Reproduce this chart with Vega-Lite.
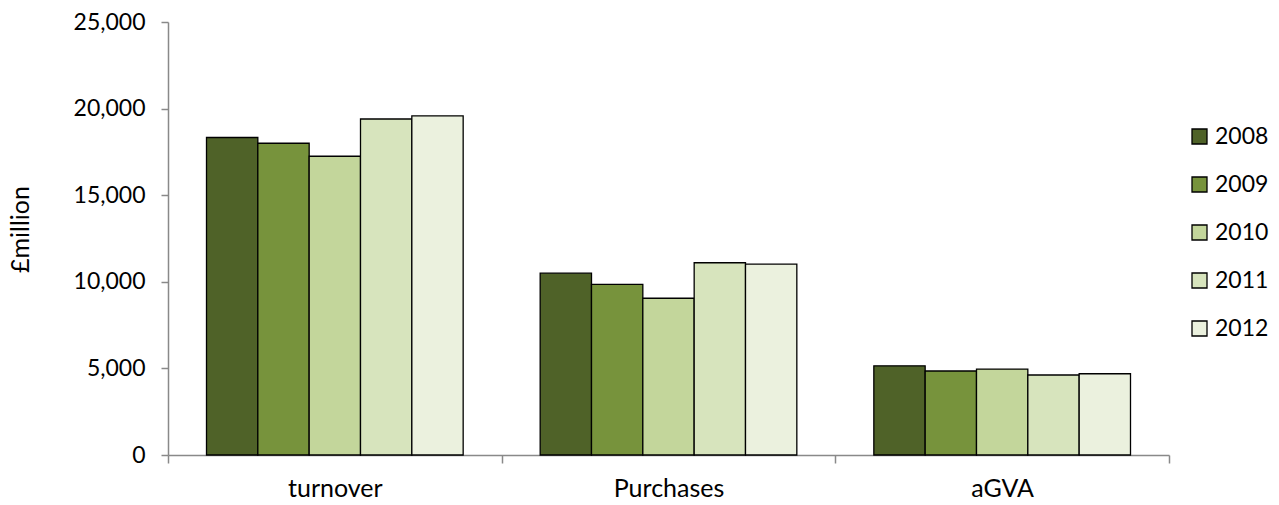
{
  "$schema": "https://vega.github.io/schema/vega-lite/v6.json",
  "width": 1001,
  "height": 433,
  "autosize": {"type": "none"},
  "padding": {"left": 168, "top": 22, "right": 110, "bottom": 50},
  "background": "white",
  "config": {
    "view": {"stroke": null},
    "font": "Lato",
    "axis": {"labelFont": "Lato", "titleFont": "Lato", "labelColor": "#000000", "titleColor": "#000000"}
  },
  "data": {
    "values": [
      {"measure": "turnover", "year": "2008", "value": 18330},
      {"measure": "turnover", "year": "2009", "value": 18000},
      {"measure": "turnover", "year": "2010", "value": 17250},
      {"measure": "turnover", "year": "2011", "value": 19400},
      {"measure": "turnover", "year": "2012", "value": 19580},
      {"measure": "Purchases", "year": "2008", "value": 10500},
      {"measure": "Purchases", "year": "2009", "value": 9850},
      {"measure": "Purchases", "year": "2010", "value": 9050},
      {"measure": "Purchases", "year": "2011", "value": 11100},
      {"measure": "Purchases", "year": "2012", "value": 11020},
      {"measure": "aGVA", "year": "2008", "value": 5150},
      {"measure": "aGVA", "year": "2009", "value": 4850},
      {"measure": "aGVA", "year": "2010", "value": 4960},
      {"measure": "aGVA", "year": "2011", "value": 4620},
      {"measure": "aGVA", "year": "2012", "value": 4690}
    ]
  },
  "mark": {"type": "bar", "stroke": "#000000", "strokeWidth": 1.3},
  "encoding": {
    "x": {
      "field": "measure",
      "type": "nominal",
      "sort": ["turnover", "Purchases", "aGVA"],
      "scale": {"paddingInner": 0, "paddingOuter": 0},
      "axis": {
        "title": null,
        "labelAngle": 0,
        "labelFontSize": 25,
        "labelPadding": 13,
        "tickBand": "extent",
        "tickSize": 8,
        "tickColor": "#898989",
        "domainColor": "#898989",
        "tickWidth": 1.5,
        "domainWidth": 1.5
      }
    },
    "xOffset": {
      "field": "year",
      "type": "nominal",
      "scale": {"paddingInner": 0, "paddingOuter": 0.75}
    },
    "y": {
      "field": "value",
      "type": "quantitative",
      "scale": {"domain": [0, 25000], "nice": false},
      "axis": {
        "title": "£million",
        "titleFontSize": 25,
        "titleFontWeight": "normal",
        "titleX": -148,
        "titleY": 207,
        "titleAngle": -90,
        "titleAlign": "center",
        "titleBaseline": "middle",
        "values": [0, 5000, 10000, 15000, 20000, 25000],
        "format": ",d",
        "labelFontSize": 23,
        "labelPadding": 16,
        "tickSize": 7,
        "tickColor": "#898989",
        "domainColor": "#898989",
        "tickWidth": 1.5,
        "domainWidth": 1.5,
        "grid": false
      }
    },
    "color": {
      "field": "year",
      "type": "nominal",
      "scale": {
        "domain": ["2008", "2009", "2010", "2011", "2012"],
        "range": ["#4F6228", "#77933C", "#C3D69B", "#D7E4BD", "#EBF1DE"]
      },
      "legend": {
        "title": null,
        "orient": "none",
        "legendX": 1020,
        "legendY": 103,
        "padding": 0,
        "symbolType": "square",
        "symbolSize": 225,
        "symbolStrokeColor": "#000000",
        "symbolStrokeWidth": 1.3,
        "labelFontSize": 23,
        "labelOffset": 4,
        "labelColor": "#000000",
        "rowPadding": 24
      }
    }
  }
}
